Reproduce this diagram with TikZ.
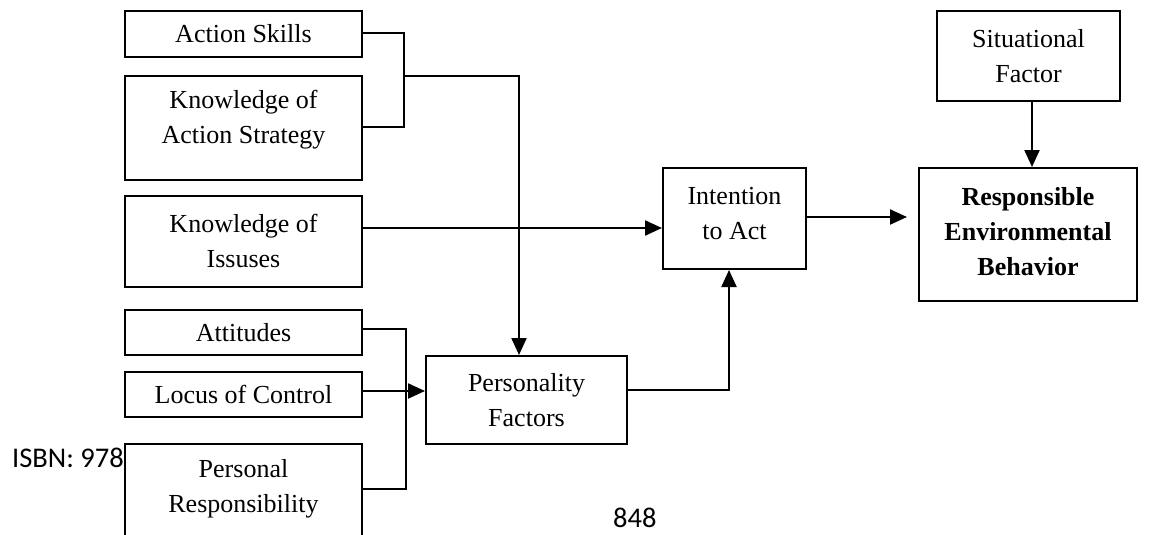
\documentclass[tikz,border=0pt]{standalone}
\usepackage{fontspec}
\setmainfont{Liberation Serif}
\newfontfamily\pagefont{Carlito}
\usetikzlibrary{arrows.meta}
\tikzset{
  box/.style={draw, line width=2pt, rectangle, inner sep=0pt},
  lbl/.style={align=center, font=\fontsize{26}{35}\selectfont, inner sep=0pt},
  conn/.style={line width=2.2pt},
  arr/.style={line width=2.2pt, -{Triangle[length=17pt,width=15pt]}},
  pagetxt/.style={font=\pagefont\fontsize{28.5}{30}\selectfont, inner sep=0pt}
}
\begin{document}
\begin{tikzpicture}[x=1pt,y=-1pt]
\useasboundingbox (0,0) rectangle (1151,535);
% left boxes
\node[box, minimum width=237pt, minimum height=46pt] (as) at (243.5,34) {};
\node[lbl] (astxt) at (243.5,34) {Action Skills};
\node[box, minimum width=237pt, minimum height=104pt] (kas) at (243.5,128) {};
\node[lbl] (kastxt) at (243.5,120) {Knowledge of\\Action Strategy};
\node[box, minimum width=237pt, minimum height=91pt] (ki) at (243.5,241.5) {};
\node[lbl] (kitxt) at (243.5,240.5) {Knowledge of\\Issuses};
\node[box, minimum width=237pt, minimum height=45pt] (att) at (243.5,332.5) {};
\node[lbl] (atttxt) at (243.5,332.5) {Attitudes};
\node[box, minimum width=237pt, minimum height=45pt] (loc) at (243.5,394.5) {};
\node[lbl] (loctxt) at (243.5,394.5) {Locus of Control};
\node[box, minimum width=237pt, minimum height=136pt] (pr) at (243.5,512) {};
\node[lbl] (prtxt) at (243.5,489) {Personal\\Responsibility};
% middle
\node[box, minimum width=201pt, minimum height=88pt] (pf) at (526.5,400) {};
\node[lbl] (pftxt) at (526.5,400.5) {Personality\\Factors};
\node[box, minimum width=143pt, minimum height=101pt] (ia) at (734.5,218.5) {};
\node[lbl] (iatxt) at (734.5,213.5) {Intention\\to Act};
% right
\node[box, minimum width=183pt, minimum height=90pt] (sf) at (1028.5,56) {};
\node[lbl] (sftxt) at (1028.5,56) {Situational\\Factor};
\node[box, minimum width=218pt, minimum height=133pt] (reb) at (1028,234.5) {};
\node[lbl, font=\fontsize{26}{35}\selectfont\bfseries] (rebtxt) at (1028,232) {Responsible\\Environmental\\Behavior};
% page text
\node[pagetxt, anchor=base west] (isbn) at (12,467) {ISBN: 978};
\node[pagetxt, anchor=base west] (pg) at (613,527) {848};
% junction coordinates
\coordinate (j1) at (404,76);
% connectors
\draw[conn] (as.east |- 0,33) -| (404,127) -- (kas.east |- 0,127);
\draw[arr] (j1) -| (pf.north -| 519,0);
\draw[arr] (ki.east |- 0,228) -- (ia.west |- 0,228);
\draw[conn] (att.east |- 0,329) -| (406,489) -- (pr.east |- 0,489);
\draw[arr] (loc.east |- 0,391) -- (pf.west |- 0,391);
\draw[arr] (pf.east |- 0,390) -| (ia.south -| 729,0);
\draw[arr] (ia.east |- 0,217) -- ([xshift=-11pt]reb.west |- 0,217);
\draw[arr] (sf.south -| 1032,0) -- (reb.north -| 1032,0);
\end{tikzpicture}
\end{document}
